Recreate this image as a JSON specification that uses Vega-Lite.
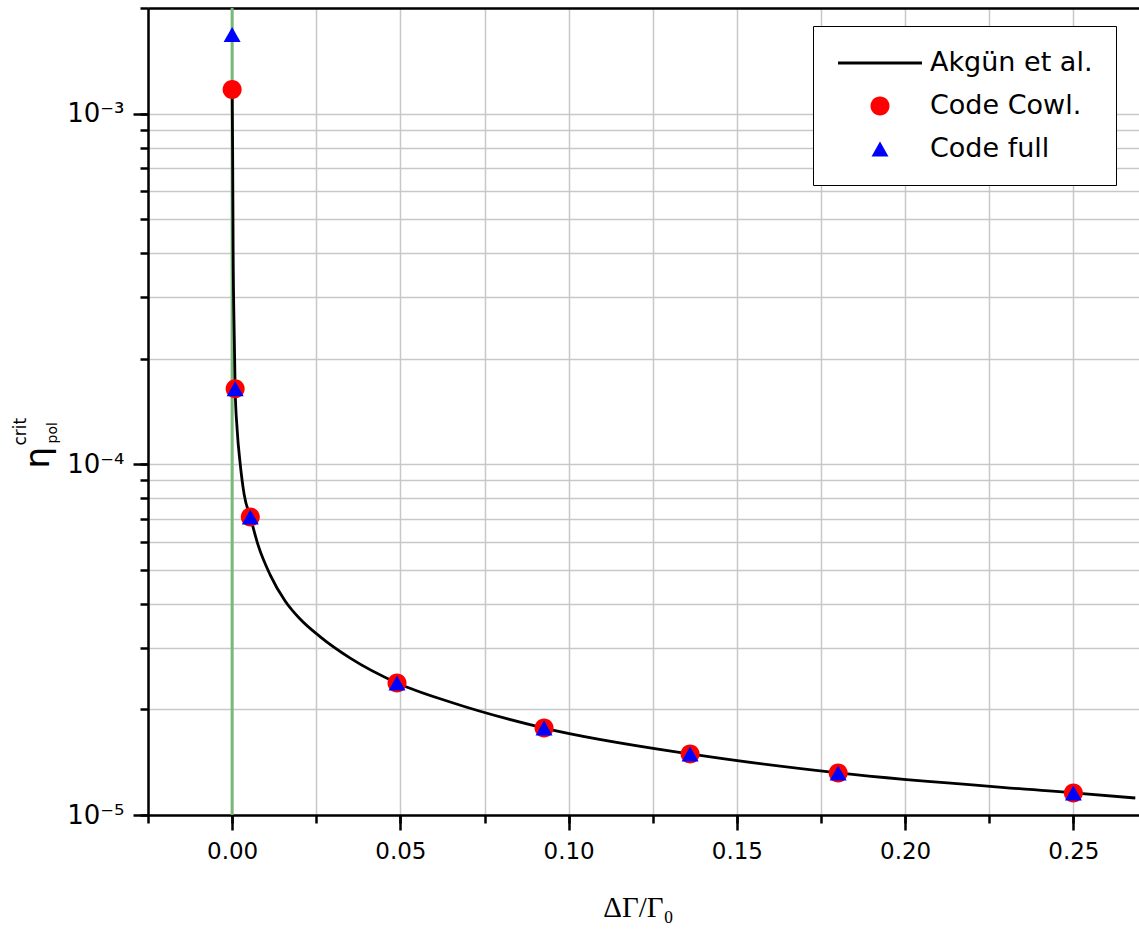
{
  "$schema": "https://vega.github.io/schema/vega-lite/v6.json",
  "width": 991,
  "height": 807,
  "autosize": "none",
  "padding": {"left": 148, "top": 8, "right": 0, "bottom": 125},
  "background": "white",
  "config": {"view": {"stroke": null}, "font": "DejaVu Sans"},
  "datasets": {
    "curve": [
      {"x": 0, "y": 0.001171},
      {"x": 0.00015, "y": 0.000789},
      {"x": 0.0003, "y": 0.000409},
      {"x": 0.0006, "y": 0.000242},
      {"x": 0.0009, "y": 0.0001643},
      {"x": 0.0015, "y": 0.0001254},
      {"x": 0.0024, "y": 0.0001003},
      {"x": 0.0036, "y": 0.0000818},
      {"x": 0.0054, "y": 0.0000708},
      {"x": 0.0077, "y": 0.0000589},
      {"x": 0.0113, "y": 0.0000484},
      {"x": 0.0158, "y": 0.0000407},
      {"x": 0.0202, "y": 0.0000362},
      {"x": 0.0262, "y": 0.0000322},
      {"x": 0.0351, "y": 0.0000280},
      {"x": 0.049, "y": 0.0000238},
      {"x": 0.0648, "y": 0.0000210},
      {"x": 0.0927, "y": 0.0000177},
      {"x": 0.1361, "y": 0.00001493},
      {"x": 0.1801, "y": 0.00001318},
      {"x": 0.25, "y": 0.00001156},
      {"x": 0.2684, "y": 0.00001118}
    ],
    "points": [
      {"series": "Code Cowl.", "x": 0, "y": 0.001171},
      {"series": "Code Cowl.", "x": 0.0009, "y": 0.0001643},
      {"series": "Code Cowl.", "x": 0.0054, "y": 0.0000708},
      {"series": "Code Cowl.", "x": 0.049, "y": 0.0000238},
      {"series": "Code Cowl.", "x": 0.0927, "y": 0.0000177},
      {"series": "Code Cowl.", "x": 0.1361, "y": 0.00001493},
      {"series": "Code Cowl.", "x": 0.1801, "y": 0.00001318},
      {"series": "Code Cowl.", "x": 0.25, "y": 0.00001156},
      {"series": "Code full", "x": 0, "y": 0.00168},
      {"series": "Code full", "x": 0.0009, "y": 0.0001643},
      {"series": "Code full", "x": 0.0054, "y": 0.0000708},
      {"series": "Code full", "x": 0.049, "y": 0.0000238},
      {"series": "Code full", "x": 0.0927, "y": 0.0000177},
      {"series": "Code full", "x": 0.1361, "y": 0.00001493},
      {"series": "Code full", "x": 0.1801, "y": 0.00001318},
      {"series": "Code full", "x": 0.25, "y": 0.00001156}
    ]
  },
  "resolve": {"axis": {"x": "independent", "y": "independent"}},
  "layer": [
    {
      "data": {"values": [{}]},
      "mark": {"type": "rule", "color": "#79b879", "strokeWidth": 3},
      "encoding": {
        "x": {
          "datum": 0, "type": "quantitative",
          "scale": {"domain": [-0.025, 0.2695], "nice": false, "zero": false},
          "axis": {
            "orient": "bottom",
            "values": [-0.025, 0, 0.025, 0.05, 0.075, 0.1, 0.125, 0.15, 0.175, 0.2, 0.225, 0.25],
            "labels": false, "domain": false, "tickSize": 8, "tickWidth": 2.5, "tickColor": "black",
            "grid": true, "gridColor": "#c8c8c8", "gridWidth": 1.5, "title": null
          }
        },
        "y": {
          "datum": 0.00001, "type": "quantitative",
          "scale": {"type": "log", "domain": [0.00001, 0.002], "nice": false},
          "axis": {
            "orient": "left",
            "values": [1e-5, 2e-5, 3e-5, 4e-5, 5e-5, 6e-5, 7e-5, 8e-5, 9e-5, 1e-4, 2e-4, 3e-4, 4e-4, 5e-4, 6e-4, 7e-4, 8e-4, 9e-4, 1e-3, 2e-3],
            "labels": false, "domain": false, "tickSize": 8, "tickWidth": 2.5, "tickColor": "black",
            "grid": true, "gridColor": "#c8c8c8", "gridWidth": 1.5,
            "title": "crit", "titleFontSize": 17, "titleFont": "DejaVu Sans", "titleFontWeight": "normal", "titleColor": "black",
            "titleAngle": 270, "titleAlign": "left", "titleBaseline": "alphabetic", "titleX": -123, "titleY": 437
          }
        },
        "y2": {"datum": 0.002}
      }
    },
    {
      "data": {"name": "curve"},
      "mark": {"type": "line", "color": "black", "strokeWidth": 2.8, "interpolate": "monotone"},
      "encoding": {
        "x": {
          "field": "x", "type": "quantitative",
          "scale": {"domain": [-0.025, 0.2695], "nice": false, "zero": false},
          "axis": {
            "orient": "bottom",
            "values": [0, 0.05, 0.1, 0.15, 0.2, 0.25], "format": ".2f",
            "domain": true, "domainColor": "black", "domainWidth": 2.5,
            "tickSize": 15, "tickWidth": 2.5, "tickColor": "black", "grid": false,
            "labelFontSize": 23, "labelFont": "DejaVu Sans", "labelColor": "black", "labelPadding": 10,
            "title": "ΔΓ/Γ₀", "titleFont": "Liberation Serif", "titleFontSize": 29, "titleFontWeight": "normal", "titleColor": "black",
            "titleBaseline": "alphabetic", "titleAlign": "center", "titleX": 490, "titleY": 101
          }
        },
        "y": {
          "field": "y", "type": "quantitative",
          "scale": {"type": "log", "domain": [0.00001, 0.002], "nice": false},
          "axis": {
            "orient": "left",
            "values": [1e-5, 1e-4, 1e-3],
            "labelExpr": "datum.value < 2e-5 ? '10⁻⁵' : (datum.value < 2e-4 ? '10⁻⁴' : '10⁻³')",
            "domain": true, "domainColor": "black", "domainWidth": 2.5,
            "tickSize": 15, "tickWidth": 2.5, "tickColor": "black", "grid": false,
            "labelFontSize": 26, "labelFont": "DejaVu Sans", "labelColor": "black", "labelPadding": 9,
            "title": "η", "titleFontSize": 34, "titleFont": "DejaVu Sans", "titleFontWeight": "normal", "titleColor": "black",
            "titleAngle": 270, "titleAlign": "left", "titleBaseline": "alphabetic", "titleX": -100, "titleY": 460
          }
        }
      }
    },
    {
      "data": {"name": "points"},
      "mark": {"type": "point", "filled": true, "size": 784, "opacity": 1, "strokeWidth": 0},
      "encoding": {
        "x": {
          "field": "x", "type": "quantitative",
          "scale": {"domain": [-0.025, 0.2695], "nice": false, "zero": false},
          "axis": {"orient": "top", "domain": true, "domainColor": "black", "domainWidth": 2.5, "ticks": false, "labels": false, "grid": false, "title": null}
        },
        "y": {
          "field": "y", "type": "quantitative",
          "scale": {"type": "log", "domain": [0.00001, 0.002], "nice": false},
          "axis": {
            "orient": "left",
            "domain": false, "ticks": false, "labels": false, "grid": false,
            "title": "pol", "titleFontSize": 14, "titleFont": "DejaVu Sans", "titleFontWeight": "normal", "titleColor": "black",
            "titleAngle": 270, "titleAlign": "left", "titleBaseline": "alphabetic", "titleX": -92, "titleY": 435
          }
        },
        "color": {
          "field": "series", "type": "nominal",
          "scale": {"domain": ["Akgün et al.", "Code Cowl.", "Code full"], "range": ["black", "red", "blue"]},
          "legend": {
            "title": null, "orient": "none", "legendX": 665, "legendY": 18, "padding": 23,
            "strokeColor": "black", "fillColor": "white",
            "labelFontSize": 27, "labelFont": "DejaVu Sans", "labelColor": "black", "labelOffset": 36, "labelLimit": 400,
            "rowPadding": 16, "symbolSize": 784, "symbolStrokeWidth": 0, "symbolOffset": 30, "symbolOpacity": 1
          }
        },
        "shape": {
          "field": "series", "type": "nominal",
          "scale": {"domain": ["Akgün et al.", "Code Cowl.", "Code full"], "range": ["M-3,-0.1L3,-0.1L3,0.1L-3,0.1Z", "M-0.679,0A0.679,0.679,0,1,1,0.679,0A0.679,0.679,0,1,1,-0.679,0Z", "M0,-0.536L0.607,0.536L-0.607,0.536Z"]},
          "legend": {
            "title": null, "orient": "none", "legendX": 665, "legendY": 18, "padding": 23,
            "strokeColor": "black", "fillColor": "white",
            "labelFontSize": 27, "labelFont": "DejaVu Sans", "labelColor": "black", "labelOffset": 36, "labelLimit": 400,
            "rowPadding": 16, "symbolSize": 784, "symbolStrokeWidth": 0, "symbolOffset": 30, "symbolOpacity": 1
          }
        }
      }
    }
  ]
}
